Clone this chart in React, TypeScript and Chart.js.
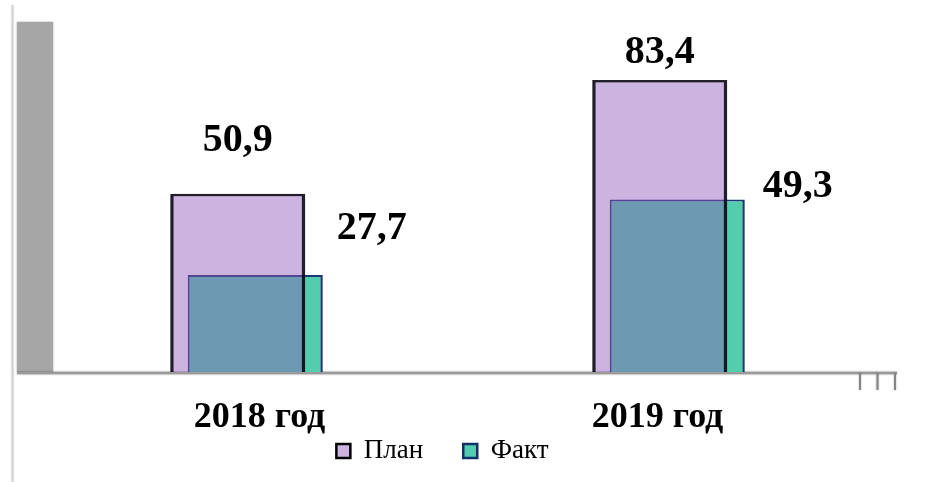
import React, { useEffect, useRef } from 'react';
import { Chart, registerables } from 'chart.js';

Chart.register(...registerables);

// ---- data ----
const categories = ['2018 год', '2019 год'];
const seriesNames = ['План', 'Факт'];
const planValues = [50.9, 83.4];
const factValues = [27.7, 49.3];
const yRange = [0, 100];

// ---- styling / layout ----
const SERIF = '"Liberation Serif", "Times New Roman", serif';
const PLAN_FILL = 'rgba(144, 88, 186, 0.45)';
const PLAN_LEGEND_FILL = '#CDB4E0';
const PLAN_BORDER = 'rgba(10, 5, 20, 0.9)';
const FACT_FILL = '#52CEAE';
const FACT_BORDER = '#1c3874';

// label placement (dx, dy) relative to the bar's top (centre for План, right edge for Факт)
const planLabelShift = [[0, -43], [0, -17]];
const factLabelShift = [[14, -36], [18, -2]];
const categoryLabelShift = [13, -11];

const fmt = (v: number) => String(v).replace('.', ',');

const decorPlugin = {
  id: 'decor',
  beforeDatasetsDraw(chart: any) {
    const { ctx, chartArea, scales } = chart;
    const base = scales.y.getPixelForValue(0);
    ctx.save();
    // outer frame line
    ctx.strokeStyle = '#d4d4d4';
    ctx.lineWidth = 2;
    ctx.shadowColor = 'rgba(0,0,0,0.15)';
    ctx.shadowBlur = 2;
    ctx.beginPath();
    ctx.moveTo(12.5, 5);
    ctx.lineTo(12.5, 482);
    ctx.stroke();
    // grey wall
    ctx.shadowColor = 'rgba(0,0,0,0.35)';
    ctx.shadowBlur = 2;
    ctx.fillStyle = '#a6a6a6';
    ctx.fillRect(chartArea.left - 18.5, chartArea.top, 36, base - chartArea.top);
    // base line
    ctx.strokeStyle = '#9a9a9a';
    ctx.lineWidth = 2.5;
    ctx.beginPath();
    ctx.moveTo(chartArea.left - 18.5, base + 1);
    ctx.lineTo(chartArea.right + 17.5, base + 1);
    ctx.stroke();
    // little tick marks at the right end
    ctx.strokeStyle = '#858585';
    ctx.lineWidth = 2;
    for (const dx of [-19.5, -2, 15.5]) {
      ctx.beginPath();
      ctx.moveTo(chartArea.right + dx, base + 1);
      ctx.lineTo(chartArea.right + dx, base + 18);
      ctx.stroke();
    }
    ctx.restore();
  },
};

const labelPlugin = {
  id: 'valueLabels',
  afterDatasetsDraw(chart: any) {
    const { ctx, scales, chartArea } = chart;
    ctx.save();
    ctx.fillStyle = '#000';
    ctx.textBaseline = 'alphabetic';
    ctx.font = `bold 40px ${SERIF}`;
    const planMeta = chart.getDatasetMeta(0);
    planMeta.data.forEach((el: any, i: number) => {
      ctx.textAlign = 'center';
      ctx.fillText(fmt(planValues[i]), el.x + planLabelShift[i][0], el.y + planLabelShift[i][1]);
    });
    const factMeta = chart.getDatasetMeta(1);
    factMeta.data.forEach((el: any, i: number) => {
      ctx.textAlign = 'left';
      ctx.fillText(fmt(factValues[i]), el.x + el.width / 2 + factLabelShift[i][0], el.y + factLabelShift[i][1]);
    });
    // category labels
    ctx.font = `bold 36px ${SERIF}`;
    ctx.textAlign = 'center';
    categories.forEach((c, i) => {
      ctx.fillText(c, scales.x.getPixelForValue(i) + categoryLabelShift[i], chartArea.bottom + 55);
    });
    ctx.restore();
  },
};

export default function App() {
  const ref = useRef<HTMLCanvasElement>(null);
  useEffect(() => {
    if (!ref.current) return;
    const chart = new Chart(ref.current, {
      type: 'bar',
      data: {
        labels: categories,
        datasets: [
          {
            label: seriesNames[0],
            data: planValues,
            backgroundColor: PLAN_FILL,
            borderColor: PLAN_BORDER,
            borderWidth: { top: 2.5, left: 3.5, right: 3.5, bottom: 0 },
            borderSkipped: 'start',
            categoryPercentage: 0.083,
            barPercentage: 7.714,
          },
          {
            label: seriesNames[1],
            data: factValues,
            backgroundColor: FACT_FILL,
            borderColor: FACT_BORDER,
            borderWidth: { top: 2, left: 2, right: 2.5, bottom: 0 },
            borderSkipped: 'start',
            categoryPercentage: 0.083,
            barPercentage: 7.714,
          },
        ],
      },
      options: {
        animation: false,
        responsive: true,
        maintainAspectRatio: false,
        events: [],
        layout: { padding: { left: 5.5, right: 59.5, top: 22, bottom: 7.5 } },
        scales: {
          x: {
            type: 'category',
            offset: true,
            ticks: { display: false },
            grid: { display: false, drawTicks: true, tickLength: 25.5 },
            border: { display: false },
          },
          y: {
            min: yRange[0],
            max: yRange[1],
            ticks: { display: false },
            grid: { display: false, drawTicks: true, tickLength: 30 },
            border: { display: false },
          },
        },
        plugins: {
          tooltip: { enabled: false },
          legend: {
            display: true,
            position: 'bottom',
            labels: {
              color: '#000',
              font: { family: SERIF, size: 27, weight: 'normal' },
              boxWidth: 14,
              boxHeight: 14,
              padding: 40,
              generateLabels: () => [
                { text: seriesNames[0], fillStyle: PLAN_LEGEND_FILL, strokeStyle: '#000', lineWidth: 2.5, hidden: false, datasetIndex: 0, fontColor: '#000' },
                { text: seriesNames[1], fillStyle: FACT_FILL, strokeStyle: '#12306a', lineWidth: 2.5, hidden: false, datasetIndex: 1, fontColor: '#000' },
              ],
            },
          },
        },
      },
      plugins: [decorPlugin, labelPlugin],
    } as any);
    return () => chart.destroy();
  }, []);
  return (
    <div style={{ position: 'absolute', left: 0, top: 0, width: 939, height: 482, background: '#fff' }}>
      <canvas ref={ref} />
    </div>
  );
}
